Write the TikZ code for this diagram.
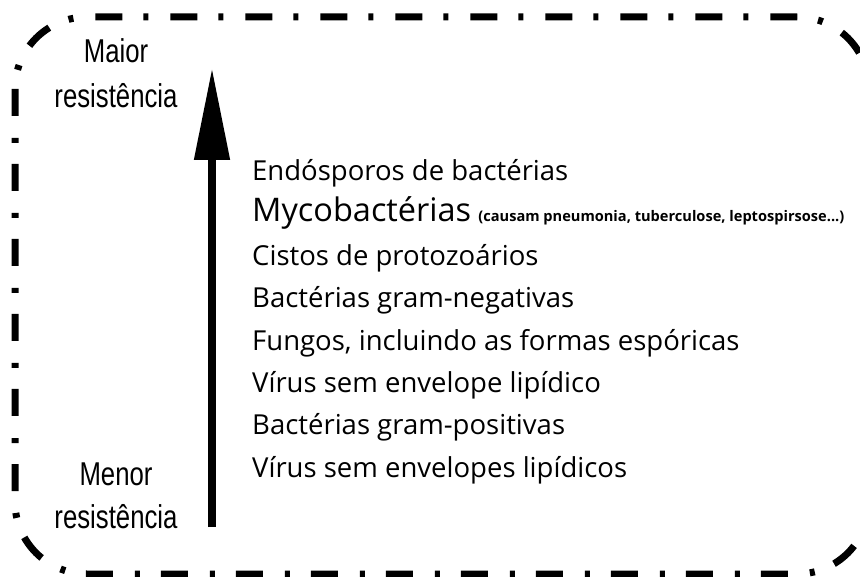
\documentclass[tikz,border=0pt]{standalone}
\usepackage{fontspec}
\setmainfont{Open Sans}
\newfontfamily\condfont[FakeStretch=0.78]{Liberation Sans}
\usetikzlibrary{arrows.meta}
\tikzset{
  frame/.style={line width=7pt, rounded corners=72pt, dash pattern=on 27pt off 22pt on 5pt off 21pt},
  sidelabel/.style={font=\condfont\fontsize{33}{45}\selectfont, align=center, inner sep=0pt},
  item/.style={font=\fontsize{27.5}{30}\selectfont, anchor=base west, inner sep=0pt},
  bigarrow/.style={line width=8pt, -{Triangle[width=34pt,length=92pt]}}
}
\begin{document}
\begin{tikzpicture}[x=1pt,y=-1pt]
\useasboundingbox (0,0) rectangle (860,577);
\clip (0,0) rectangle (860,577);
\draw[frame] (15,17) rectangle (869,574);
\node[sidelabel, anchor=base] (maior) at (116,63) {Maior};
\node[sidelabel, anchor=base] (maior2) at (116,108) {resistência};
\node[sidelabel, anchor=base] (menor) at (116,485) {Menor};
\node[sidelabel, anchor=base] (menor2) at (116,528) {resistência};
\coordinate (lo) at (212,527);
\coordinate (hi) at (212,68);
\draw[bigarrow] (lo) -- (hi);
\node[item] (l1) at (252,181) {Endósporos de bactérias};
\node[item] (l2) at (252,222) {{\fontsize{32.5}{34}\selectfont Mycobactérias} {\fontsize{14.6}{16}\selectfont\bfseries (causam pneumonia, tuberculose, leptospirsose...)}};
\node[item] (l3) at (252,265.6) {Cistos de protozoários};
\node[item] (l4) at (252,307.9) {Bactérias gram-negativas};
\node[item] (l5) at (252,350.2) {Fungos, incluindo as formas espóricas};
\node[item] (l6) at (252,392.5) {Vírus sem envelope lipídico};
\node[item] (l7) at (252,434.8) {Bactérias gram-positivas};
\node[item] (l8) at (252,477.1) {Vírus sem envelopes lipídicos};
\end{tikzpicture}
\end{document}
